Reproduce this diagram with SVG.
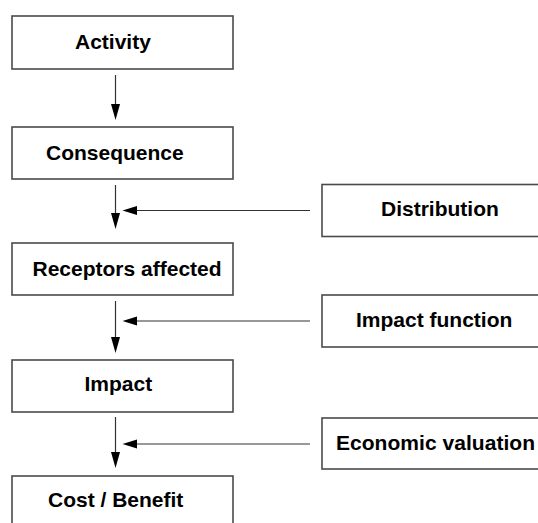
<svg xmlns="http://www.w3.org/2000/svg" width="538" height="523" viewBox="0 0 538 523">
<style>
.box{fill:#fff;stroke:#4a4a4a;stroke-width:1.6}
.lbl{font-family:"Liberation Sans",Arial,sans-serif;font-weight:bold;font-size:21px;fill:#000}
.ln{stroke:#333;stroke-width:1.2;fill:none}
.hd{fill:#000}
</style>
<rect width="538" height="523" fill="#fff"/>
<g id="activity"><rect class="box" x="12" y="16" width="221" height="53"/><text class="lbl" x="75" y="48.5">Activity</text></g>
<g id="consequence"><rect class="box" x="12" y="127" width="221" height="52"/><text class="lbl" x="46" y="160">Consequence</text></g>
<g id="receptors"><rect class="box" x="12" y="243" width="221" height="52"/><text class="lbl" x="32.5" y="276">Receptors affected</text></g>
<g id="impact"><rect class="box" x="12" y="360" width="221" height="52"/><text class="lbl" x="84.5" y="391">Impact</text></g>
<g id="costbenefit"><rect class="box" x="12" y="476" width="221" height="80"/><text class="lbl" x="48" y="507">Cost / Benefit</text></g>
<g id="distribution"><rect class="box" x="322" y="184.5" width="240" height="52"/><text class="lbl" x="381" y="216">Distribution</text></g>
<g id="impactfunction"><rect class="box" x="322" y="295" width="240" height="52"/><text class="lbl" x="356" y="327">Impact function</text></g>
<g id="economicvaluation"><rect class="box" x="322" y="418" width="240" height="51"/><text class="lbl" x="336" y="449.5" textLength="199" lengthAdjust="spacing">Economic valuation</text></g>
<g id="connectors">
<line class="ln" x1="115.5" y1="75" x2="115.5" y2="105"/><polygon class="hd" points="111,104 120,104 115.5,120"/>
<line class="ln" x1="115.5" y1="185" x2="115.5" y2="214"/><polygon class="hd" points="111,213 120,213 115.5,229"/>
<line class="ln" x1="115.5" y1="301" x2="115.5" y2="337"/><polygon class="hd" points="111,337 120,337 115.5,353"/>
<line class="ln" x1="115.5" y1="417" x2="115.5" y2="453"/><polygon class="hd" points="111,452 120,452 115.5,468"/>
<line class="ln" x1="310" y1="210.5" x2="136" y2="210.5"/><polygon class="hd" points="137,206 137,215 122.5,210.5"/>
<line class="ln" x1="310" y1="321" x2="136" y2="321"/><polygon class="hd" points="137,316.5 137,325.5 122.5,321"/>
<line class="ln" x1="310" y1="444" x2="136" y2="444"/><polygon class="hd" points="137,439.5 137,448.5 122.5,444"/>
</g>
</svg>
